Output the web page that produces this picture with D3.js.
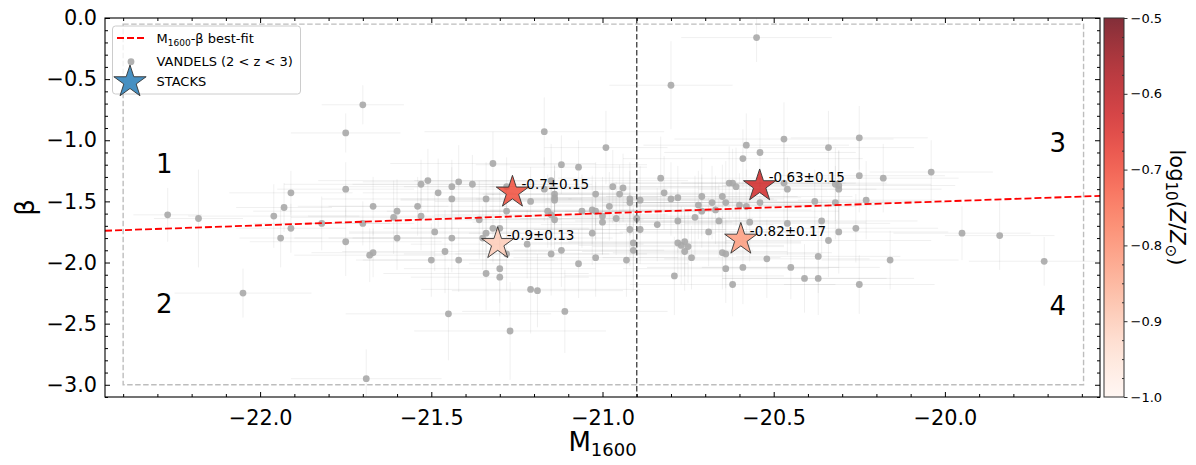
<!DOCTYPE html>
<html>
<head>
<meta charset="utf-8">
<script src="https://cdn.jsdelivr.net/npm/d3@7"></script>
<style>
  body { margin: 0; background: #fff; }
  text { font-family: "DejaVu Sans", sans-serif; }
</style>
</head>
<body>
<div id="chart"></div>
<script>
const WIDTH = 1196;
const HEIGHT = 465;
const PLOT = {left: 105, right: 1100, top: 18, bottom: 397};
const CBAR = {left: 1104, right: 1124};

// VANDELS galaxies (2 < z < 3): M1600, beta and their errors
const vandelsM = [
  -21.70,-21.75,-21.75,-21.91,-21.93,-21.67,-22.27,-22.18,-21.96,-21.91,
  -21.82,-21.70,-21.94,-21.75,-21.67,-21.68,-22.05,-21.69,-21.17,-20.99,
  -21.32,-21.12,-21.07,-21.53,-21.51,-21.42,-21.38,-21.44,-21.48,-21.44,
  -21.34,-21.28,-21.21,-21.28,-21.60,-21.61,-21.54,-21.53,-21.36,-21.17,
  -21.15,-21.14,-21.14,-21.14,-21.16,-21.15,-21.14,-21.06,-21.03,-21.02,
  -21.02,-20.97,-20.94,-20.95,-20.92,-20.92,-20.98,-21.00,-21.00,-20.96,
  -20.90,-20.92,-21.60,-21.49,-21.44,-21.50,-21.46,-21.42,-21.34,-21.32,
  -21.30,-21.35,-21.28,-21.22,-21.15,-21.12,-21.03,-21.02,-21.07,-20.93,
  -20.91,-20.91,-21.30,-21.34,-21.30,-21.21,-21.19,-21.11,-21.45,-21.27,
  -20.55,-20.80,-20.58,-20.47,-20.54,-20.59,-20.34,-20.25,-20.83,-20.82,
  -20.89,-20.80,-20.78,-20.71,-20.72,-20.68,-20.65,-20.64,-20.63,-20.62,
  -20.61,-20.60,-20.58,-20.54,-20.47,-20.46,-20.32,-20.31,-20.31,-20.25,
  -20.18,-20.38,-20.32,-20.23,-20.89,-20.84,-20.78,-20.73,-20.71,-20.67,
  -20.66,-20.69,-20.57,-20.46,-20.36,-20.31,-20.26,-20.34,-20.78,-20.77,
  -20.76,-20.75,-20.76,-20.74,-20.65,-20.64,-20.52,-20.37,-20.16,-20.64,
  -20.59,-20.45,-20.79,-20.41,-20.37,-20.62,-20.25,-20.04,-19.95,-19.84,
  -19.71
];
const vandelsBeta = [
  -0.71,-0.94,-1.40,-1.43,-1.55,-1.54,-1.61,-1.64,-1.62,-1.72,
  -1.68,-1.68,-1.80,-1.83,-1.92,-1.94,-2.25,-2.95,-0.93,-1.06,
  -1.19,-1.20,-1.22,-1.36,-1.33,-1.34,-1.36,-1.38,-1.43,-1.48,
  -1.48,-1.38,-1.50,-1.58,-1.58,-1.63,-1.54,-1.62,-1.65,-1.40,
  -1.33,-1.44,-1.47,-1.49,-1.58,-1.61,-1.65,-1.58,-1.57,-1.58,
  -1.44,-1.38,-1.39,-1.44,-1.48,-1.51,-1.54,-1.62,-1.67,-1.64,
  -1.64,-1.73,-1.80,-1.75,-1.80,-1.98,-1.91,-1.98,-1.76,-1.72,
  -1.72,-1.80,-1.93,-1.85,-1.93,-1.90,-1.76,-1.96,-2.01,-1.98,
  -1.84,-1.90,-2.05,-2.09,-2.12,-2.22,-2.23,-2.40,-2.42,-2.56,
  -0.16,-0.55,-1.04,-0.99,-1.10,-1.15,-1.06,-0.98,-1.31,-1.43,
  -1.49,-1.48,-1.47,-1.46,-1.53,-1.51,-1.46,-1.51,-1.35,-1.35,
  -1.38,-1.53,-1.54,-1.51,-1.35,-1.40,-1.36,-1.37,-1.40,-1.29,
  -1.31,-1.50,-1.51,-1.49,-1.73,-1.69,-1.66,-1.63,-1.58,-1.57,
  -1.66,-1.75,-1.67,-1.68,-1.66,-1.75,-1.72,-1.82,-1.84,-1.86,
  -1.83,-1.87,-1.91,-1.96,-1.92,-1.93,-1.97,-1.95,-1.98,-2.05,
  -2.04,-2.04,-2.11,-2.13,-2.13,-2.18,-2.18,-1.26,-1.76,-1.78,
  -1.99
];
const vandelsErrM = [
  0.12,0.16,0.20,0.18,0.14,0.22,0.10,0.13,0.25,0.16,
  0.20,0.15,0.12,0.28,0.18,0.22,0.20,0.22,0.35,0.18,
  0.30,0.25,0.20,0.40,0.32,0.28,0.35,0.30,0.22,0.38,
  0.25,0.30,0.28,0.35,0.42,0.30,0.26,0.33,0.24,0.36,
  0.40,0.22,0.30,0.45,0.28,0.34,0.26,0.38,0.30,0.42,
  0.32,0.36,0.28,0.40,0.45,0.30,0.35,0.26,0.38,0.32,
  0.34,0.28,0.30,0.25,0.36,0.22,0.30,0.28,0.40,0.32,
  0.26,0.38,0.30,0.34,0.28,0.30,0.36,0.24,0.32,0.40,
  0.30,0.35,0.28,0.30,0.26,0.32,0.25,0.30,0.30,0.28,
  0.22,0.18,0.30,0.32,0.28,0.35,0.25,0.20,0.30,0.34,
  0.40,0.30,0.36,0.28,0.42,0.32,0.38,0.30,0.34,0.36,
  0.28,0.40,0.32,0.36,0.30,0.26,0.28,0.34,0.30,0.25,
  0.22,0.30,0.32,0.20,0.38,0.34,0.30,0.36,0.40,0.28,
  0.32,0.26,0.34,0.30,0.28,0.32,0.24,0.30,0.36,0.30,
  0.34,0.28,0.30,0.26,0.32,0.28,0.30,0.24,0.20,0.30,
  0.28,0.26,0.32,0.24,0.28,0.30,0.22,0.18,0.20,0.16,
  0.22
];
const vandelsErrBeta = [
  0.16,0.16,0.22,0.18,0.20,0.24,0.22,0.40,0.26,0.20,
  0.22,0.18,0.24,0.28,0.20,0.22,0.20,0.24,0.28,0.30,
  0.26,0.24,0.22,0.20,0.26,0.30,0.24,0.22,0.28,0.26,
  0.30,0.24,0.28,0.22,0.26,0.30,0.24,0.28,0.32,0.26,
  0.30,0.24,0.22,0.28,0.30,0.26,0.24,0.30,0.28,0.24,
  0.26,0.30,0.28,0.24,0.30,0.26,0.28,0.32,0.26,0.30,
  0.28,0.30,0.26,0.32,0.28,0.30,0.34,0.26,0.30,0.28,
  0.32,0.26,0.30,0.28,0.34,0.30,0.26,0.32,0.28,0.30,
  0.30,0.34,0.28,0.30,0.32,0.36,0.30,0.34,0.38,0.40,
  0.20,0.36,0.26,0.30,0.28,0.24,0.30,0.26,0.34,0.30,
  0.28,0.30,0.26,0.32,0.28,0.30,0.26,0.34,0.30,0.28,
  0.32,0.26,0.30,0.28,0.34,0.26,0.30,0.28,0.32,0.30,
  0.28,0.26,0.30,0.32,0.28,0.30,0.26,0.34,0.30,0.28,
  0.30,0.28,0.32,0.26,0.30,0.34,0.28,0.30,0.26,0.32,
  0.28,0.30,0.32,0.26,0.30,0.28,0.32,0.30,0.24,0.28,
  0.30,0.26,0.32,0.28,0.30,0.26,0.24,0.26,0.22,0.28,
  0.20
];

// stacked spectra
const stackM = [-21.263, -21.306, -20.541, -20.596];
const stackBeta = [-1.426, -1.847, -1.374, -1.811];
const stackZ = [-0.70, -0.90, -0.63, -0.82];
const stackLabels = ['-0.7\u00b10.15', '-0.9\u00b10.13', '-0.63\u00b10.15', '-0.82\u00b10.17'];

// best-fit line, split line, selection box, quadrant labels
const fitM = [-22.453, -19.547];
const fitBeta = [-1.740, -1.455];
const splitM = -20.9;
const boxM = [-22.40, -19.595];
const boxBeta = [-3.0, -0.05];
const quadLabels = ['1', '2', '3', '4'];
const quadM = [-22.28, -22.28, -19.67, -19.67];
const quadBeta = [-1.19, -2.34, -1.02, -2.35];

// ticks
const xTicks = [-22.0, -21.5, -21.0, -20.5, -20.0];
const yTicks = [0.0, -0.5, -1.0, -1.5, -2.0, -2.5, -3.0];
const cbTicks = [-0.5, -0.6, -0.7, -0.8, -0.9, -1.0];

const xScale = d3.scaleLinear().domain([-22.453, -19.547]).range([PLOT.left, PLOT.right]);
const yScale = d3.scaleLinear().domain([-3.1, 0]).range([PLOT.bottom, PLOT.top]);
const zScale = d3.scaleLinear().domain([-1.0, -0.5]).range([PLOT.bottom, PLOT.top]);
const color = d3.scaleSequential(d3.interpolateReds).domain([-1.0, -0.5]);

const svg = d3.select('#chart').append('svg')
  .attr('width', WIDTH).attr('height', HEIGHT);

const pw = PLOT.right - PLOT.left, ph = PLOT.bottom - PLOT.top;
svg.append('defs').append('clipPath').attr('id', 'clip')
  .append('rect').attr('x', PLOT.left).attr('y', PLOT.top).attr('width', pw).attr('height', ph);

const plot = svg.append('g').attr('clip-path', 'url(#clip)');
const idx = d3.range(vandelsM.length);

// error bars
const err = plot.append('g').attr('stroke', '#8a8a8a').attr('stroke-opacity', 0.13).attr('stroke-width', 1);
err.selectAll('line.h').data(idx).enter().append('line')
  .attr('x1', i => xScale(vandelsM[i] - vandelsErrM[i]))
  .attr('x2', i => xScale(vandelsM[i] + vandelsErrM[i]))
  .attr('y1', i => yScale(vandelsBeta[i]))
  .attr('y2', i => yScale(vandelsBeta[i]));
err.selectAll('line.v').data(idx).enter().append('line')
  .attr('x1', i => xScale(vandelsM[i]))
  .attr('x2', i => xScale(vandelsM[i]))
  .attr('y1', i => yScale(vandelsBeta[i] - vandelsErrBeta[i]))
  .attr('y2', i => yScale(vandelsBeta[i] + vandelsErrBeta[i]));

// points
plot.append('g').selectAll('circle').data(idx).enter().append('circle')
  .attr('cx', i => xScale(vandelsM[i]))
  .attr('cy', i => yScale(vandelsBeta[i]))
  .attr('r', 3.4)
  .attr('fill', '#a9a9a9')
  .attr('fill-opacity', 0.9);

// selection box
plot.append('rect')
  .attr('x', xScale(boxM[0])).attr('y', yScale(boxBeta[1]))
  .attr('width', xScale(boxM[1]) - xScale(boxM[0]))
  .attr('height', yScale(boxBeta[0]) - yScale(boxBeta[1]))
  .attr('fill', 'none').attr('stroke', '#bdbdbd').attr('stroke-width', 1.4)
  .attr('stroke-dasharray', '5.5,2.5');

// split line
plot.append('line')
  .attr('x1', xScale(splitM)).attr('x2', xScale(splitM))
  .attr('y1', PLOT.top).attr('y2', PLOT.bottom)
  .attr('stroke', '#4a4a4a').attr('stroke-width', 1.4).attr('stroke-dasharray', '5.5,2.5');

// best fit
plot.append('line')
  .attr('x1', xScale(fitM[0])).attr('y1', yScale(fitBeta[0]))
  .attr('x2', xScale(fitM[1])).attr('y2', yScale(fitBeta[1]))
  .attr('stroke', '#ff0000').attr('stroke-width', 1.8).attr('stroke-dasharray', '7,3');

// quadrant numbers
svg.append('g').selectAll('text').data(quadLabels).enter().append('text')
  .attr('x', (d, i) => xScale(quadM[i]))
  .attr('y', (d, i) => yScale(quadBeta[i]))
  .attr('text-anchor', 'middle').attr('dy', '0.36em')
  .style('font-size', '26px')
  .text(d => d);

// stacks
const STAR_R = 17;
const star = d3.symbol(d3.symbolStar, STAR_R * STAR_R / 0.8908130915292852);
svg.append('g').selectAll('path').data(stackM).enter().append('path')
  .attr('d', star)
  .attr('transform', (d, i) => 'translate(' + xScale(d) + ',' + yScale(stackBeta[i]) + ')')
  .attr('fill', (d, i) => color(stackZ[i]))
  .attr('fill-opacity', 0.82)
  .attr('stroke', '#333').attr('stroke-width', 0.9);
svg.append('g').selectAll('text').data(stackLabels).enter().append('text')
  .attr('x', (d, i) => xScale(stackM[i]) + 9)
  .attr('y', (d, i) => yScale(stackBeta[i]) - 8.5)
  .attr('dy', '0.36em')
  .style('font-size', '13.5px')
  .text(d => d);

// axes
function frameAxis(axis, transform, fmt, ticks, minor, labelled) {
  const g = svg.append('g').attr('transform', transform);
  g.call(axis.tickValues(ticks).tickSize(-5).tickPadding(labelled ? axis.pad : 0)
    .tickFormat(labelled ? fmt : ''));
  g.selectAll('text').style('font-size', '20.8px').attr('fill', '#000');
  g.select('.domain').remove();
  g.selectAll('.tick line').attr('stroke', '#000');
  const m = svg.append('g').attr('transform', transform);
  m.call(axis.tickValues(minor).tickSize(-3).tickFormat(''));
  m.select('.domain').remove();
  m.selectAll('.tick line').attr('stroke', '#000');
  return g;
}
const fmt1 = d3.format('.1f');
const xMinor = d3.range(-224, -195, 1).map(v => v / 10).filter(v => Math.abs(v * 2 - Math.round(v * 2)) > 1e-6);
const yMinor = d3.range(-31, 1, 1).map(v => v / 10).filter(v => Math.abs(v * 2 - Math.round(v * 2)) > 1e-6);

let ax = d3.axisBottom(xScale); ax.pad = 13;
frameAxis(ax, 'translate(0,' + PLOT.bottom + ')', fmt1, xTicks, xMinor, true);
ax = d3.axisTop(xScale); ax.pad = 0;
frameAxis(ax, 'translate(0,' + PLOT.top + ')', fmt1, xTicks, xMinor, false);
ax = d3.axisLeft(yScale); ax.pad = 8;
frameAxis(ax, 'translate(' + PLOT.left + ',0)', fmt1, yTicks, yMinor, true);
ax = d3.axisRight(yScale); ax.pad = 0;
frameAxis(ax, 'translate(' + PLOT.right + ',0)', fmt1, yTicks, yMinor, false);

svg.append('rect')
  .attr('x', PLOT.left).attr('y', PLOT.top).attr('width', pw).attr('height', ph)
  .attr('fill', 'none').attr('stroke', '#000').attr('stroke-width', 1.1);

// axis labels
const xl = svg.append('text')
  .attr('x', (PLOT.left + PLOT.right) / 2).attr('y', 451)
  .attr('text-anchor', 'middle').style('font-size', '26px');
xl.append('tspan').text('M');
xl.append('tspan').attr('dy', 5).style('font-size', '18px').text('1600');

svg.append('text')
  .attr('transform', 'translate(34,' + ((PLOT.top + PLOT.bottom) / 2) + ') rotate(-90)')
  .attr('text-anchor', 'middle')
  .style('font-size', '26px')
  .text('\u03b2');

// legend
const legend = svg.append('g');
legend.append('rect')
  .attr('x', 112.5).attr('y', 26).attr('width', 188).attr('height', 68).attr('rx', 3)
  .attr('fill', '#fff').attr('fill-opacity', 0.8)
  .attr('stroke', '#cccccc').attr('stroke-width', 1);
legend.append('line')
  .attr('x1', 117).attr('x2', 145).attr('y1', 38).attr('y2', 38)
  .attr('stroke', '#ff0000').attr('stroke-width', 1.8).attr('stroke-dasharray', '7,3');
legend.append('circle').attr('cx', 131).attr('cy', 61.7).attr('r', 3.4)
  .attr('fill', '#a9a9a9').attr('fill-opacity', 0.9);
legend.append('path').attr('d', star).attr('transform', 'translate(130,82)')
  .attr('fill', '#1f77b4').attr('fill-opacity', 0.82)
  .attr('stroke', '#333').attr('stroke-width', 0.9);
const l1 = legend.append('text').attr('x', 156.5).attr('y', 38).attr('dy', '0.36em').style('font-size', '13px');
l1.append('tspan').text('M');
l1.append('tspan').attr('dy', 3).style('font-size', '9px').text('1600');
l1.append('tspan').attr('dy', -3).text('-\u03b2 best-fit');
legend.append('text').attr('x', 156.5).attr('y', 61).attr('dy', '0.36em').style('font-size', '13px')
  .text('VANDELS (2 < z < 3)');
legend.append('text').attr('x', 156.5).attr('y', 81.5).attr('dy', '0.36em').style('font-size', '13px')
  .text('STACKS');

// colorbar
const grad = svg.select('defs').append('linearGradient').attr('id', 'reds')
  .attr('x1', 0).attr('x2', 0).attr('y1', 1).attr('y2', 0);
d3.range(0, 1.0001, 0.05).forEach(t => {
  grad.append('stop').attr('offset', t).attr('stop-color', d3.interpolateReds(t));
});
svg.append('rect')
  .attr('x', CBAR.left).attr('y', PLOT.top).attr('width', CBAR.right - CBAR.left).attr('height', ph)
  .attr('fill', 'url(#reds)').attr('fill-opacity', 0.82);
const cb = svg.append('g').attr('transform', 'translate(' + CBAR.right + ',0)');
cb.call(d3.axisRight(zScale).tickValues(cbTicks).tickSize(3.5).tickPadding(3).tickFormat(fmt1));
cb.select('.domain').remove();
cb.selectAll('text').style('font-size', '13px').attr('fill', '#000');
cb.selectAll('.tick line').attr('stroke', '#333');
const cbMinor = d3.range(-40, -19, 1).map(v => v / 40).filter(v => Math.abs(v * 10 - Math.round(v * 10)) > 1e-6);
const cbm = svg.append('g').attr('transform', 'translate(' + CBAR.right + ',0)');
cbm.call(d3.axisRight(zScale).tickValues(cbMinor).tickSize(-2).tickFormat(''));
cbm.select('.domain').remove();
cbm.selectAll('.tick line').attr('stroke', '#333');
svg.append('rect')
  .attr('x', CBAR.left).attr('y', PLOT.top).attr('width', CBAR.right - CBAR.left).attr('height', ph)
  .attr('fill', 'none').attr('stroke', '#333').attr('stroke-width', 1);

const cl = svg.append('text')
  .attr('transform', 'translate(1170,' + ((PLOT.top + PLOT.bottom) / 2) + ') rotate(90)')
  .attr('text-anchor', 'middle')
  .style('font-size', '21px');
cl.append('tspan').text('log');
cl.append('tspan').attr('dy', 4).style('font-size', '15px').text('10');
cl.append('tspan').attr('dy', -4).text('(');
cl.append('tspan').style('font-style', 'italic').text('Z');
cl.append('tspan').text('/');
cl.append('tspan').style('font-style', 'italic').text('Z');
cl.append('tspan').attr('dy', 4).style('font-size', '15px').text('\u2299');
cl.append('tspan').attr('dy', -4).text(')');
</script>
</body>
</html>
